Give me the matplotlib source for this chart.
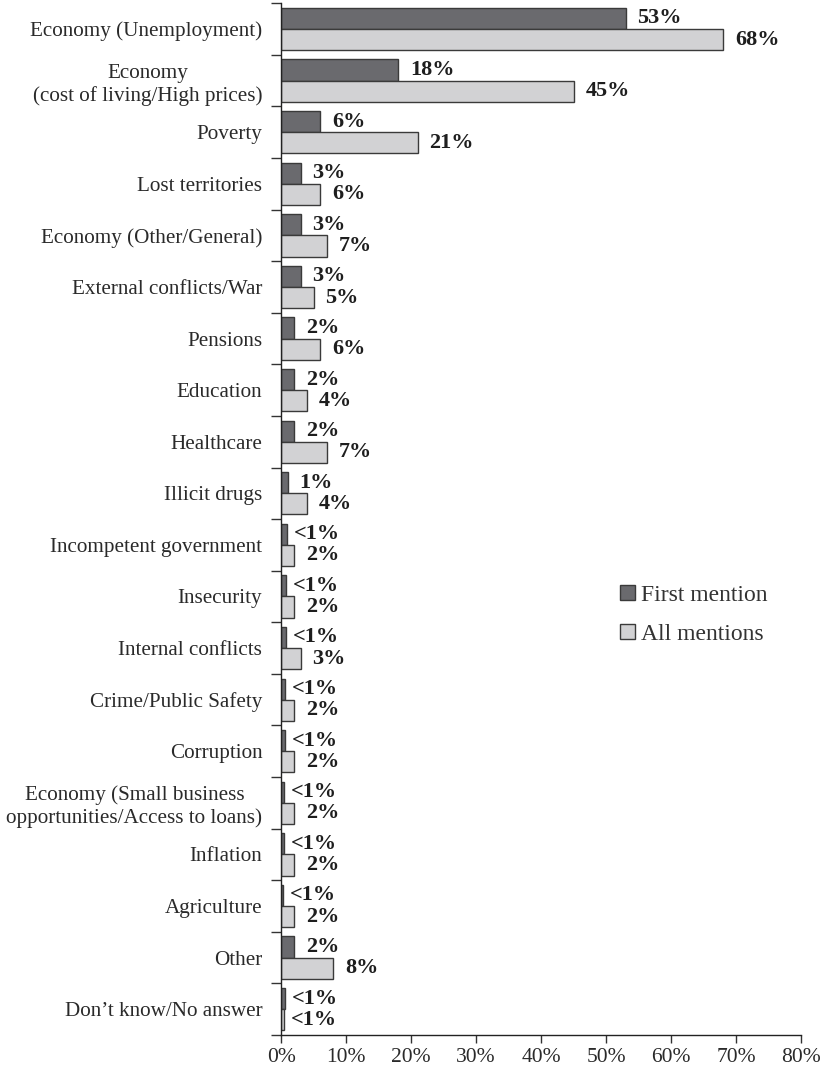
import matplotlib
matplotlib.use("Agg")
import matplotlib.pyplot as plt
import numpy as np
from matplotlib.ticker import FixedLocator, PercentFormatter

plt.rcParams['font.family'] = ['Liberation Serif', 'DejaVu Serif']

categories = [
    "Economy (Unemployment)",
    "Economy\n(cost of living/High prices)",
    "Poverty",
    "Lost territories",
    "Economy (Other/General)",
    "External conflicts/War",
    "Pensions",
    "Education",
    "Healthcare",
    "Illicit drugs",
    "Incompetent government",
    "Insecurity",
    "Internal conflicts",
    "Crime/Public Safety",
    "Corruption",
    "Economy (Small business\nopportunities/Access to loans)",
    "Inflation",
    "Agriculture",
    "Other",
    "Don\u2019t know/No answer",
]
first_mention = [53, 18, 6, 3, 3, 3, 2, 2, 2, 1, 0.9, 0.8, 0.7, 0.6, 0.6, 0.5, 0.5, 0.3, 2, 0.6]
all_mentions = [68, 45, 21, 6, 7, 5, 6, 4, 7, 4, 2, 2, 3, 2, 2, 2, 2, 2, 8, 0.5]
first_labels = ["53%", "18%", "6%", "3%", "3%", "3%", "2%", "2%", "2%", "1%",
                "<1%", "<1%", "<1%", "<1%", "<1%", "<1%", "<1%", "<1%", "2%", "<1%"]
all_labels = ["68%", "45%", "21%", "6%", "7%", "5%", "6%", "4%", "7%", "4%",
              "2%", "2%", "3%", "2%", "2%", "2%", "2%", "2%", "8%", "<1%"]
series_names = ["First mention", "All mentions"]
x_ticks = [0, 10, 20, 30, 40, 50, 60, 70, 80]

fig = plt.figure(figsize=(8.22, 10.67), dpi=100)
ax = fig.add_axes([0.342, 0.030, 0.6325, 0.967])

y = np.arange(len(categories))
h = 0.41
dark = "#6a6a6e"
light = "#d2d2d4"
edge = "#3a3a3a"
b1 = ax.barh(y - 0.205, first_mention, height=h, color=dark, edgecolor=edge, linewidth=1.0, label=series_names[0])
b2 = ax.barh(y + 0.205, all_mentions, height=h, color=light, edgecolor=edge, linewidth=1.0, label=series_names[1])

def put_label(v, yc, t):
    off = 5 if t.startswith("<") else 8.5
    ax.annotate(t, (v, yc), xytext=(off, 0), textcoords="offset points",
                va="center", ha="left", fontsize=16, fontweight="bold", color="#1e1e1e")

for yi, v, t in zip(y, first_mention, first_labels):
    put_label(v, yi - 0.205, t)
for yi, v, t in zip(y, all_mentions, all_labels):
    put_label(v, yi + 0.205, t)

ax.set_xlim(0, 80)
ax.set_ylim(len(categories) - 0.5, -0.5)
ax.xaxis.set_major_locator(FixedLocator(x_ticks))
ax.xaxis.set_major_formatter(PercentFormatter(decimals=0))
ax.set_yticks(y)
ax.set_yticklabels(categories, fontsize=15.2, multialignment="center", color="#2a2a2a")
ax.yaxis.set_minor_locator(FixedLocator(np.arange(-0.5, len(categories) + 0.5, 1)))
ax.tick_params(axis="y", which="major", length=0, pad=13.5)
ax.tick_params(axis="y", which="minor", length=7, width=1, color="#333333")
ax.tick_params(axis="x", which="major", length=6, width=1, labelsize=15.5, color="#333333", labelcolor="#2a2a2a")

for s in ["top", "right"]:
    ax.spines[s].set_visible(False)
for s in ["left", "bottom"]:
    ax.spines[s].set_color("#222222")
    ax.spines[s].set_linewidth(1.0)

fig.legend(handles=[b1, b2], labels=series_names, loc="upper left",
           bbox_to_anchor=(0.729, 0.4715), frameon=False, fontsize=17,
           handlelength=0.6, handleheight=0.6, handletextpad=0.25, labelspacing=0.75,
           labelcolor="#333333")

fig.savefig("out.png", dpi=100)
